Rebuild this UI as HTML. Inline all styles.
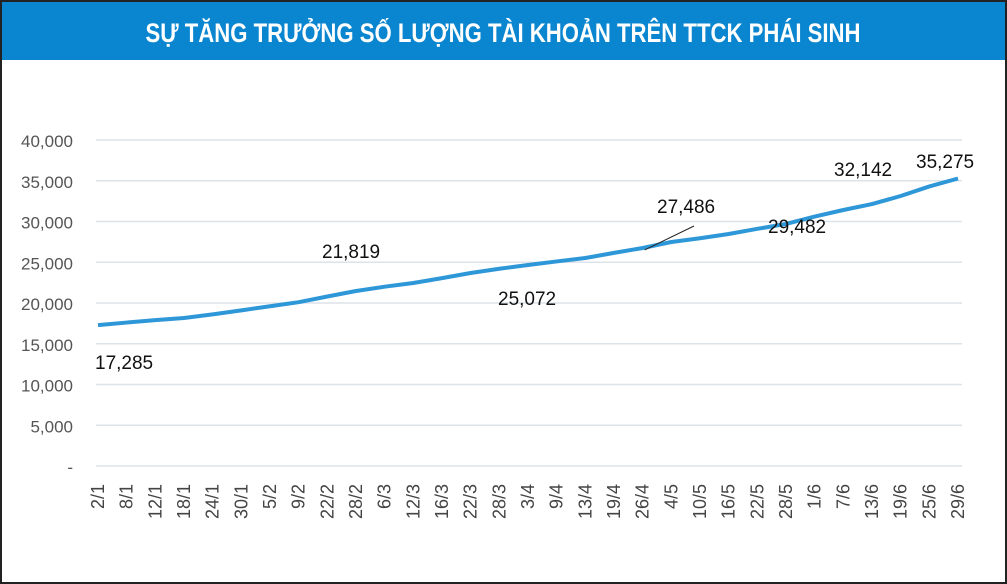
<!DOCTYPE html>
<html><head><meta charset="utf-8"><style>
html,body{margin:0;padding:0;background:#fff}
svg{display:block}
</style></head><body>
<svg id="chart" width="1007" height="584" viewBox="0 0 1007 584" xmlns="http://www.w3.org/2000/svg" font-family="'Liberation Sans', sans-serif">
<rect x="1" y="1" width="1005" height="582" fill="#fff" stroke="#222" stroke-width="2"/>
<rect x="2" y="2" width="1003" height="58" fill="#0a86d0"/>
<text x="503" y="42" text-anchor="middle" fill="#fff" font-size="27" font-weight="bold" textLength="715" lengthAdjust="spacingAndGlyphs">SỰ TĂNG TRƯỞNG SỐ LƯỢNG TÀI KHOẢN TRÊN TTCK PHÁI SINH</text>
<g id="grid"></g><g id="yl"></g><g id="xl"></g><g id="series"></g><g id="ann"></g>
</svg>
<script>
const categories=["2/1","8/1","12/1","18/1","24/1","30/1","5/2","9/2","22/2","28/2","6/3","12/3","16/3","22/3","28/3","3/4","9/4","13/4","19/4","26/4","4/5","10/5","16/5","22/5","28/5","1/6","7/6","13/6","19/6","25/6","29/6"];
const values=[17285,17600,17900,18160,18600,19100,19600,20100,20800,21470,22000,22450,23050,23680,24200,24660,25100,25520,26150,26750,27486,27950,28470,29100,29700,30600,31410,32142,33130,34300,35275];
const yTicks=[0,5000,10000,15000,20000,25000,30000,35000,40000];
const yTickLabels=["-","5,000","10,000","15,000","20,000","25,000","30,000","35,000","40,000"];
const annValues=[17285,21819,25072,27486,29482,32142,35275];
const annLabels=["17,285","21,819","25,072","27,486","29,482","32,142","35,275"];
const annPos=[[95,369],[322,258],[498,305],[657,213],[768,233],[834,176],[916,168]];
const NS="http://www.w3.org/2000/svg";
const x0=98,x1=958,yb=466,yt=140;
const xs=i=>x0+(x1-x0)*i/(categories.length-1);
const ys=v=>yb-(yb-yt)*v/40000;
function mk(t,a,p){const e=document.createElementNS(NS,t);for(const k in a)e.setAttribute(k,a[k]);document.getElementById(p).appendChild(e);return e;}
yTicks.forEach((v,i)=>{
 const l=mk('line',{x1:96,x2:962,y1:ys(v),y2:ys(v),stroke:'#dde3ea','stroke-width':1.5},'grid');
 
 
 const t=mk('text',{x:73,y:ys(v)+7,'text-anchor':'end','font-size':17,fill:'#555'},'yl');
 t.textContent=yTickLabels[i];
 
 
});
categories.forEach((c,i)=>{
 const x=xs(i)+6,y=484;
 const t=mk('text',{x:x,y:y,'text-anchor':'end','font-size':18,fill:'#444',transform:`rotate(-90 ${x} ${y})`},'xl');
 t.textContent=c;
 
 
});
const p=mk('polyline',{points:values.map((v,i)=>xs(i)+','+ys(v)).join(' '),fill:'none',stroke:'#2e97d8','stroke-width':4,'stroke-linejoin':'round'},'series');


annLabels.forEach((s,i)=>{
 const t=mk('text',{x:annPos[i][0],y:annPos[i][1],'font-size':19,fill:'#111'},'ann');
 t.textContent=s;
 
 
});
const ld=mk('line',{x1:xs(19)+2,y1:ys(values[19])+2,x2:694,y2:226,stroke:'#222','stroke-width':1},'ann');


</script>
</body></html>
